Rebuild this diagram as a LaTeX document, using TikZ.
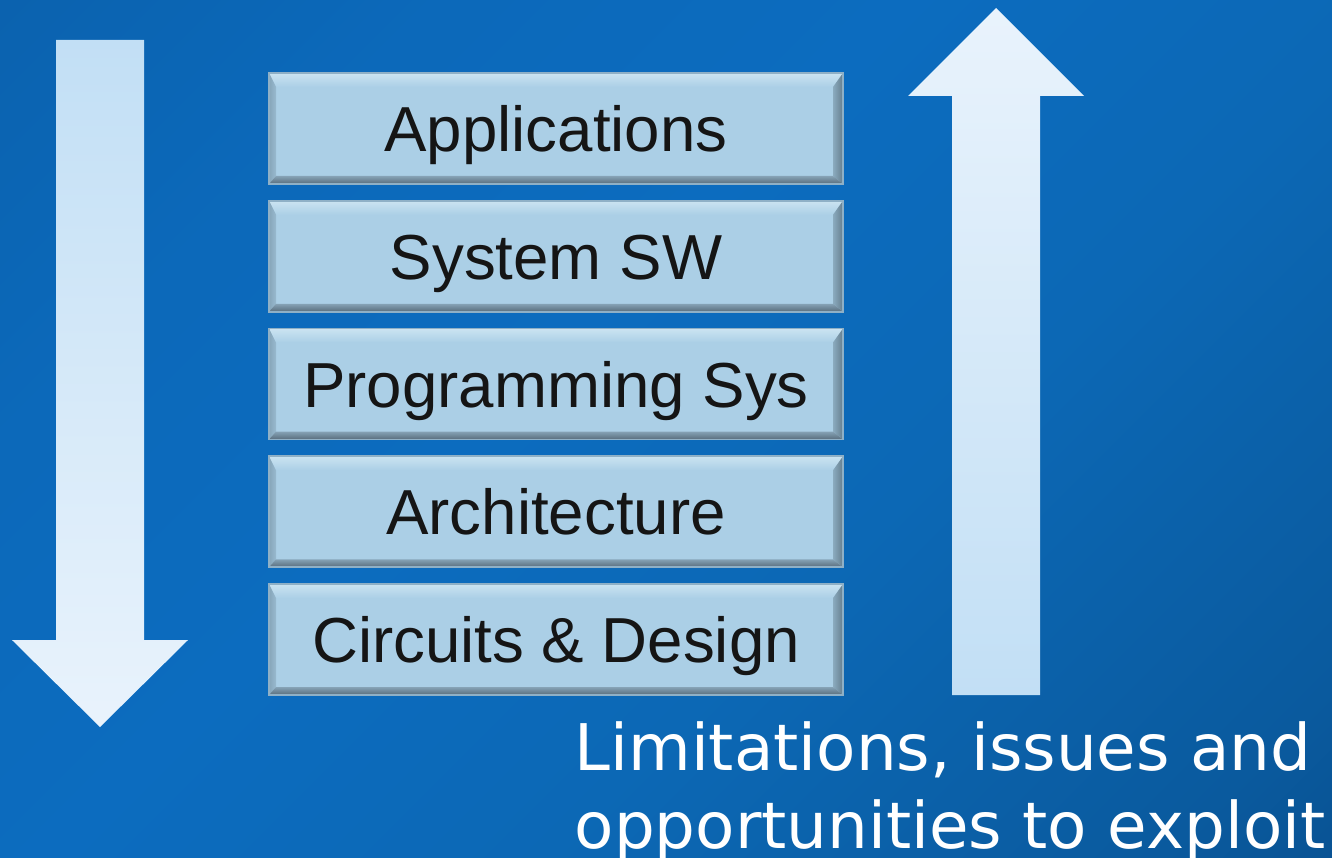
\documentclass[tikz,border=0pt]{standalone}
\usepackage{fontspec}
\setmainfont{Liberation Sans}
\newfontfamily\capfont{DejaVu Sans}
\usepackage{tikz}
\usetikzlibrary{positioning,calc}
\definecolor{bgtl}{HTML}{0A5BA3}
\definecolor{bgmid}{HTML}{0C6CBF}
\definecolor{bgtr}{HTML}{0C68B5}
\definecolor{bgdim}{HTML}{0A5A9E}
\definecolor{bgbr}{HTML}{05417B}
\definecolor{facecol}{HTML}{ABCFE6}
\definecolor{toplit}{HTML}{F2FDFF}
\definecolor{leftcol}{HTML}{86A5B9}
\definecolor{rightcol}{HTML}{647E8E}
\definecolor{botcol}{HTML}{586C7B}
\definecolor{edgecol}{HTML}{8FB0C6}
\definecolor{arrlight}{HTML}{E9F3FC}
\definecolor{arrdark}{HTML}{C2DFF5}
\definecolor{inkcol}{HTML}{151515}
\pgfdeclareverticalshading{bgshade}{100bp}{color(0bp)=(bgbr); color(20bp)=(bgdim);
  color(40bp)=(bgtr); color(56bp)=(bgmid); color(72bp)=(bgmid!80!bgtl); color(100bp)=(bgtl)}

\begin{document}
\begin{tikzpicture}[
  layer/.style={draw=edgecol,line width=0.5pt,fill=facecol,minimum width=5.74cm,minimum height=1.11cm,
    inner sep=0pt,text height=0.46cm,text depth=0pt,text=inkcol,font=\fontsize{18.1}{20}\selectfont,
    path picture={
      \coordinate (bnw) at (path picture bounding box.north west);
      \coordinate (bne) at (path picture bounding box.north east);
      \coordinate (bse) at (path picture bounding box.south east);
      \coordinate (bsw) at (path picture bounding box.south west);
      \shade[top color=facecol!55!toplit,middle color=toplit,bottom color=facecol]
        (bnw)--(bne)--($(bne)+(-0.10,-0.14)$)--($(bnw)+(0.07,-0.14)$)--cycle;
      \shade[left color=leftcol,right color=leftcol!50!facecol]
        (bnw)--($(bnw)+(0.07,-0.14)$)--($(bsw)+(0.07,0.08)$)--(bsw)--cycle;
      \shade[left color=rightcol!45!facecol,right color=rightcol]
        (bne)--(bse)--($(bse)+(-0.10,0.08)$)--($(bne)+(-0.10,-0.14)$)--cycle;
      \shade[top color=botcol!45!facecol,bottom color=botcol]
        (bsw)--(bse)--($(bse)+(-0.10,0.08)$)--($(bsw)+(0.07,0.08)$)--cycle;
    }},
  note/.style={inner sep=0pt,text=white,font=\capfont\fontsize{18.3}{22}\selectfont}]
  % background
  \shade[shading=bgshade,shading angle=45] (0,0) rectangle (13.32,8.57);
  \useasboundingbox (0,0) rectangle (13.32,8.57);
  % big arrows
  \shade[top color=arrdark,bottom color=arrlight]
    (0.56,8.17)--(1.44,8.17)--(1.44,2.17)--(1.88,2.17)--(1.00,1.30)--(0.12,2.17)--(0.56,2.17)--cycle;
  \shade[top color=arrlight,bottom color=arrdark]
    (9.52,1.62)--(10.40,1.62)--(10.40,7.61)--(10.84,7.61)--(9.96,8.49)--(9.08,7.61)--(9.52,7.61)--cycle;
  % layer stack
  \node[layer] (app) at (5.56,7.285) {Applications};
  \node[layer,below=0.15cm of app] (sysw) {System SW};
  \node[layer,below=0.15cm of sysw] (prog) {Programming Sys};
  \node[layer,below=0.15cm of prog] (arch) {Architecture};
  \node[layer,below=0.15cm of arch] (circ) {Circuits \& Design};
  % caption
  \node[note,anchor=base west] (lim) at (5.74,0.87) {Limitations, issues and};
  \node[note,anchor=base west] (opp) at (5.74,0.09) {opportunities to exploit};
\end{tikzpicture}
\end{document}
